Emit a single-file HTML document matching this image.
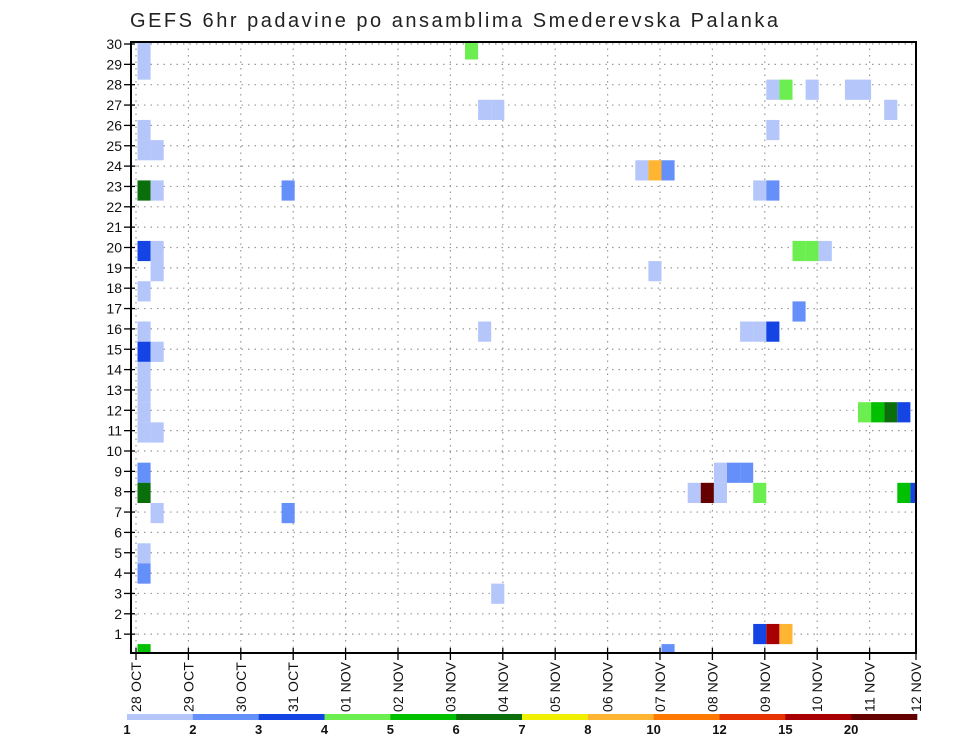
<!DOCTYPE html>
<html><head><meta charset="utf-8"><style>
html,body{margin:0;padding:0;background:#fff;}
svg{display:block;font-family:"Liberation Sans",sans-serif;}
</style></head><body>
<svg id="chart" width="960" height="742" viewBox="0 0 960 742">
<text x="130" y="27" font-size="20" fill="#222" textLength="648" lengthAdjust="spacing">GEFS 6hr padavine po ansamblima Smederevska Palanka</text>
<g id="grid"></g><g id="cells"></g><g id="axes"></g><g id="cbar"></g>
</svg>
<script>
const dayLabels=["28 OCT","29 OCT","30 OCT","31 OCT","01 NOV","02 NOV","03 NOV","04 NOV","05 NOV","06 NOV","07 NOV","08 NOV","09 NOV","10 NOV","11 NOV","12 NOV"];
const memberTicks=[1,2,3,4,5,6,7,8,9,10,11,12,13,14,15,16,17,18,19,20,21,22,23,24,25,26,27,28,29,30];
const legendLabels=["1","2","3","4","5","6","7","8","10","12","15","20"];
const palette=["#b4c6fa","#6590fa","#1444e4","#6cee50","#00c000","#0a6e0a","#f0f000","#ffb432","#ff7800","#e63200","#a80000","#640000"];
// cells: time step index (6h), ensemble member, colour class
const cellStep=[0,0,0,0,1,0,1,0,1,1,0,0,0,1,0,0,0,0,1,0,0,1,0,0,0,11,11,25,26,27,38,39,40,39,26,27,48,49,51,54,55,57,48,47,48,50,51,52,50,46,47,48,55,56,57,58,44,45,46,42,43,44,47,58,59,47,48,49,40];
const cellMember=[30,29,26,25,25,23,23,20,20,19,18,16,15,15,14,13,12,11,11,9,8,7,5,4,0,23,7,30,27,27,24,24,24,19,16,3,28,28,28,28,28,27,26,23,23,20,20,20,17,16,16,16,12,12,12,12,9,9,9,8,8,8,8,8,8,1,1,1,0];
const cellClass=[0,0,0,0,0,5,0,2,0,0,0,0,2,0,0,0,0,0,0,1,5,0,0,1,4,1,1,3,0,0,0,7,1,0,0,0,0,3,0,0,0,0,0,0,1,3,3,0,1,0,0,2,3,4,5,2,0,1,1,0,11,0,3,4,2,2,10,7,1];

const L=131,R=916,T=42,B=653;
const NS="http://www.w3.org/2000/svg";
function el(tag,attrs,parent){const e=document.createElementNS(NS,tag);for(const k in attrs)e.setAttribute(k,attrs[k]);parent.appendChild(e);return e;}
const xDay=d=>136+52.4*d;
const xStep=i=>137.5+13.1*i;
const yLine=m=>654.5-20.35*m;
const yCell=m=>654.2-20.16*m;
const grid=document.getElementById('grid'),cells=document.getElementById('cells'),axes=document.getElementById('axes'),cbar=document.getElementById('cbar');

memberTicks.forEach(m=>{
  const y=yLine(m);
  const g=el('line',{x1:L,x2:R,y1:y,y2:y,stroke:'#999','stroke-width':1.2,'stroke-dasharray':'1.5 5'},grid);
  
  
  const t=el('line',{x1:L-7,x2:L+4,y1:y,y2:y,stroke:'#000','stroke-width':1.3},axes);
  
  
  const lb=el('text',{x:L-9,y:y+5,'font-size':14,'text-anchor':'end',fill:'#111'},axes);
  lb.textContent=m;
  
  
});
dayLabels.forEach((d,i)=>{
  const x=Math.min(xDay(i),R);
  if(x<R){const g=el('line',{x1:x,x2:x,y1:T,y2:B,stroke:'#999','stroke-width':1.2,'stroke-dasharray':'1.5 5'},grid);
  
  }
  const t=el('line',{x1:x,x2:x,y1:B-5,y2:B+7,stroke:'#000','stroke-width':1.3},axes);
  
  
  const lb=el('text',{x:0,y:0,'font-size':14,'text-anchor':'start',fill:'#111',textLength:50,lengthAdjust:'spacing',transform:`translate(${x+5},712) rotate(-90)`},axes);
  lb.textContent=d;
  
  
});
const clip=el('clipPath',{id:'pc'},document.getElementById('chart'));
el('rect',{x:L,y:T,width:R-L,height:B-T},clip);
cells.setAttribute('clip-path','url(#pc)');
cellStep.forEach((s,k)=>{
  const m=cellMember[k];
  const c=el('rect',{x:xStep(s),y:yCell(m)-10.1,width:13.1,height:20.2,fill:palette[cellClass[k]]},cells);
  
  
});
const fr=el('rect',{x:L,y:T,width:R-L,height:B-T,fill:'none',stroke:'#000','stroke-width':2},axes);



const cw=(917-127)/palette.length;
palette.forEach((col,i)=>{
  const r=el('rect',{x:127+i*cw,y:714,width:cw+0.3,height:6,fill:col},cbar);
  
  
  const t=el('text',{x:127+i*cw,y:734,'font-size':13,'font-weight':'bold','text-anchor':'middle',fill:'#111'},cbar);
  t.textContent=legendLabels[i];
  
  
});
</script>
</body></html>
